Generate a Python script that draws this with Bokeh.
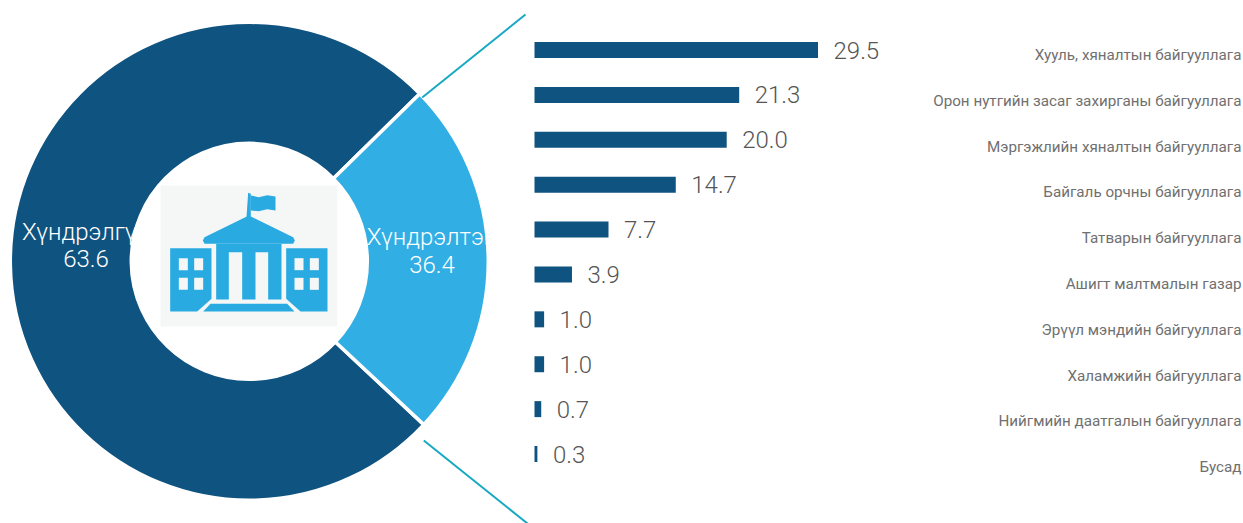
from math import pi
from bokeh.plotting import figure
from bokeh.models import Range1d
from bokeh.core.properties import value
from bokeh.embed import file_html
from bokeh.resources import INLINE

# ---- data ----
pie_names = ["Хүндрэлгүй", "Хүндрэлтэй"]
pie_labels = ["63.6", "36.4"]
pie_drawn_shares = [75.67, 24.33]   # as the wedges are actually drawn in the picture
pie_colors = ["#0f5380", "#31aee4"]
bar_values = [29.5, 21.3, 20.0, 14.7, 7.7, 3.9, 1.0, 1.0, 0.7, 0.3]
bar_labels = ["29.5", "21.3", "20.0", "14.7", "7.7", "3.9", "1.0", "1.0", "0.7", "0.3"]
categories = [
    "Хууль, хяналтын байгууллага",
    "Орон нутгийн засаг захирганы байгууллага",
    "Мэргэжлийн хяналтын байгууллага",
    "Байгаль орчны байгууллага",
    "Татварын байгууллага",
    "Ашигт малтмалын газар",
    "Эрүүл мэндийн байгууллага",
    "Халамжийн байгууллага",
    "Нийгмийн даатгалын байгууллага",
    "Бусад",
]

W, H = 1243, 523
FONT = "Roboto Light"


def X(px):
    return px


def Y(py):
    return 523 - py


p = figure(width=W, height=H, output_backend="svg", toolbar_location=None,
           x_range=Range1d(0, W), y_range=Range1d(0, H),
           min_border=0, outline_line_color=None, background_fill_color="white",
           border_fill_color="white")
p.axis.visible = False
p.grid.visible = False

# extra scales: bar value -> x, row index -> y
bar_per_px = 29.5 / 283.5
p.extra_x_ranges["bars"] = Range1d((0 - 534) * bar_per_px, (1243 - 534) * bar_per_px)
row_h = 44.89
p.extra_y_ranges["rows"] = Range1d((523 - 49.5) / row_h, (0 - 49.5) / row_h)
lab_h = 45.8
p.extra_y_ranges["labs"] = Range1d((523 - 54.5) / lab_h, (0 - 54.5) / lab_h)

# donut
cx, cy, r_out, r_in = X(248.8), Y(260.8), 239, 118
light = pie_drawn_shares[1] / 100 * 2 * pi
start = -43.1 / 180 * pi
p.annular_wedge([cx], [cy], inner_radius=r_in, outer_radius=r_out,
                start_angle=[start + light], end_angle=[start + 2 * pi],
                fill_color=pie_colors[0], line_color="white", line_width=3.5)
p.annular_wedge([cx], [cy], inner_radius=r_in, outer_radius=r_out,
                start_angle=[start], end_angle=[start + light],
                fill_color=pie_colors[1], line_color="white", line_width=3.5)

# donut labels (white on white where they overrun the ring, as in the source)
p.text([X(85.5), X(431.5)], [Y(231), Y(236.5)], text=pie_names, text_color="white",
       text_font=value(FONT), text_font_size="24px", text_align="center", text_baseline="middle")
p.text([X(85.5), X(431.5)], [Y(258), Y(264)], text=pie_labels, text_color="white",
       text_font=value(FONT), text_font_size="24px", text_align="center", text_baseline="middle")

# connector lines
p.line([X(421.7), X(525)], [Y(97), Y(14)], line_color="#17a9c2", line_width=2)
p.line([X(423.3), X(527)], [Y(440), Y(523)], line_color="#17a9c2", line_width=2)


# icon
def zx(v):
    return [X(130 + a / 3) for a in v]


def zy(v):
    return [Y(160 + a / 3) for a in v]


def poly(xs, ys, color):
    p.patch(zx(xs), zy(ys), fill_color=color, line_color=None)


ICON = "#29abe2"
BG = "#f5f7f7"
poly([90, 620, 620, 90], [75, 75, 498, 498], BG)
poly([348, 353, 361, 361, 348], [170, 97, 100, 170, 170], ICON)
poly([361, 385, 410, 435, 435, 410, 385, 361], [105, 110, 104, 108, 150, 146, 152, 150], ICON)
poly([355, 488, 493, 488, 222, 217, 222], [165, 230, 240, 250, 250, 240, 230], ICON)
poly([257, 453, 453, 413, 413, 375, 375, 335, 335, 295, 295, 257],
     [250, 250, 417, 417, 275, 275, 417, 417, 275, 275, 417, 417], ICON)
poly([119, 243, 243, 200, 119], [263, 263, 415, 453, 453], ICON)
poly([467, 591, 591, 510, 467], [263, 263, 453, 453, 415], ICON)
poly([240, 470, 492, 218], [430, 430, 453, 453], ICON)
for x0 in (145, 191, 492, 538):
    for y0 in (293, 352):
        poly([x0, x0 + 27, x0 + 27, x0], [y0, y0, y0 + 36, y0 + 36], BG)

# bars
rows = list(range(len(bar_values)))
p.hbar(y=rows, right=bar_values, left=0, height=16 / row_h, fill_color=pie_colors[0], line_color=None,
       x_range_name="bars", y_range_name="rows")
p.text(x=bar_values, y=rows, text=bar_labels, x_offset=15.5, text_color="#555555",
       text_font=value(FONT), text_font_size="24px", text_align="left", text_baseline="middle",
       x_range_name="bars", y_range_name="rows")

# category labels
p.text(x=[X(1241)] * len(categories), y=rows, text=categories, text_color="#707070",
       text_font=value("Roboto"), text_font_size="15.2px", text_align="right", text_baseline="middle",
       y_range_name="labs")

open("out.html", "w").write(file_html(p, INLINE))
